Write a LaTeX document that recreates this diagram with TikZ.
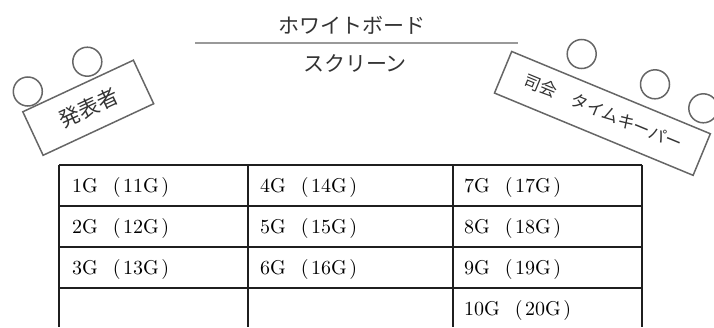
\documentclass[tikz,border=0pt]{standalone}
\usepackage{fontspec}
\newfontfamily\cjk{Noto Sans CJK JP}
\newfontfamily\lmten{lmroman10-regular.otf}
\newcommand\gcell[2]{#1\hspace{15pt}(\hspace{2.5pt}#2\hspace{2.5pt})}
\begin{document}
\begin{tikzpicture}[x=1pt,y=-1pt,
  boxln/.style={draw=black!60, line width=1.5pt, text=black!80, inner sep=0pt},
  seat/.style={draw=black!60, line width=1.5pt, circle, minimum size=29pt, inner sep=0pt},
  grid/.style={draw=black!88, line width=2pt},
  celltext/.style={font=\lmten\fontsize{20}{24}\selectfont, inner sep=0pt, anchor=base west},
  toptext/.style={font=\cjk\fontsize{21}{24}\selectfont, inner sep=0pt, text=black!80},
]
\useasboundingbox (0,0) rectangle (714,327);

% top labels
\node[toptext] (wb) at (352,25) {ホワイトボード};
\coordinate (ls) at (195,43);
\coordinate (le) at (518,43);
\draw[draw=black!40, line width=2pt] (ls) -- (le);
\node[toptext] (scr) at (355,63) {スクリーン};

% presenter
\node[boxln, rectangle, minimum width=122pt, minimum height=48pt, rotate=25,
      font=\cjk\fontsize{21}{24}\selectfont] (pbox) at (88.25,107.75)
      {\raisebox{-4pt}{発表者}\hspace{16pt}};
\node[seat] (c1) at (27.8,91.5) {};
\node[seat] (c2) at (87.3,61.7) {};

% MC / timekeeper
\node[boxln, rectangle, minimum width=215pt, minimum height=45pt, rotate=-22.5,
      font=\cjk\fontsize{17}{20}\selectfont] (mbox) at (602.4,113.4)
      {\raisebox{5pt}{司会　タイムキーパー}};
\node[seat] (c3) at (581.7,54) {};
\node[seat] (c4) at (655,84.3) {};
\node[seat] (c5) at (703.3,108.3) {};

% table grid
\foreach \yy in {165,206,247,288} {
  \draw[grid] (59,\yy) -- (642,\yy);
}
\foreach \xx in {59,248,453,642} {
  \draw[grid] (\xx,165) -- (\xx,327);
}

% table texts
\node[celltext] (g1) at (72,192.5) {\gcell{1G}{11G}};
\node[celltext] (g2) at (72,233.5) {\gcell{2G}{12G}};
\node[celltext] (g3) at (72,274.5) {\gcell{3G}{13G}};
\node[celltext] (g4) at (260,192.5) {\gcell{4G}{14G}};
\node[celltext] (g5) at (260,233.5) {\gcell{5G}{15G}};
\node[celltext] (g6) at (260,274.5) {\gcell{6G}{16G}};
\node[celltext] (g7) at (464,192.5) {\gcell{7G}{17G}};
\node[celltext] (g8) at (464,233.5) {\gcell{8G}{18G}};
\node[celltext] (g9) at (464,274.5) {\gcell{9G}{19G}};
\node[celltext] (g10) at (464,315.5) {\gcell{10G}{20G}};
\end{tikzpicture}
\end{document}
